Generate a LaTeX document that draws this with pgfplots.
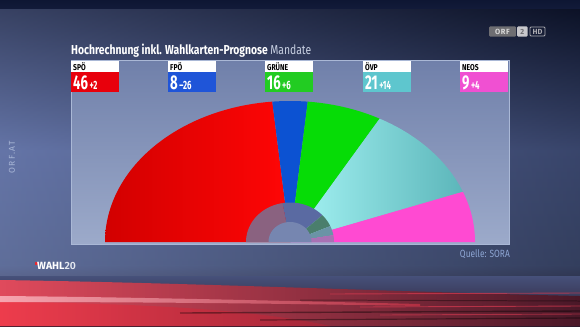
\documentclass[border=0pt]{standalone}
\usepackage{pgfplots}
\pgfplotsset{compat=1.18}
\usepackage{pgfplotstable}
\usepackage{fontspec}
\setmainfont{Fira Sans}
\newfontfamily\cond{Fira Sans}[FakeStretch=0.80]
\newfontfamily\numf{Fira Sans}[FakeStretch=0.66]
\newfontfamily\light{Fira Sans Light}

\definecolor{bgA}{HTML}{0E1633}
\definecolor{bgB}{HTML}{54669E}
\definecolor{bgC}{HTML}{4C5C8A}
\definecolor{bgD}{HTML}{2A1A2C}
\definecolor{pnlT}{HTML}{7080AA}
\definecolor{pnlM}{HTML}{8A9AC0}
\definecolor{pnlBot}{HTML}{9CAACA}
\definecolor{pnlB}{HTML}{AAB8D6}
\definecolor{spoL}{HTML}{D20000}
\definecolor{spoR}{HTML}{FF0606}
\definecolor{fpo}{HTML}{0C52D2}
\definecolor{gru}{HTML}{06DC06}
\definecolor{ovpL}{HTML}{A6F4F4}
\definecolor{ovpR}{HTML}{5CB6BA}
\definecolor{neos}{HTML}{FF4AD2}
\definecolor{boxspo}{HTML}{E8000C}
\definecolor{boxfpo}{HTML}{1F55D8}
\definecolor{boxgru}{HTML}{22CC22}
\definecolor{boxovp}{HTML}{5EC6CE}
\definecolor{boxneos}{HTML}{F050D2}
\definecolor{pspo}{HTML}{8A6280}
\definecolor{pfpo}{HTML}{5A6AA2}
\definecolor{pgru}{HTML}{4A7E6C}
\definecolor{povp}{HTML}{6A94A6}
\definecolor{pneos}{HTML}{A872B4}
\definecolor{core}{HTML}{7686B0}
\definecolor{titgrey}{HTML}{C8D0E2}
\definecolor{quelle}{HTML}{8EA6D4}
\definecolor{orfat}{HTML}{A8B6D6}
\definecolor{redA}{HTML}{E04A5C}
\definecolor{redB}{HTML}{4A1828}
\definecolor{redC}{HTML}{F03A4A}
\definecolor{redD}{HTML}{A82638}
\definecolor{pinkA}{HTML}{FFC4CC}
\definecolor{pinkB}{HTML}{C83246}
\definecolor{redL}{HTML}{D83A50}
\definecolor{tick}{HTML}{E62832}
\definecolor{lgA}{HTML}{6E6E72}
\definecolor{lgB}{HTML}{D8D8D8}
\definecolor{lgC}{HTML}{C8C8CC}
\definecolor{lgD}{HTML}{6E6E72}
\definecolor{lgE}{HTML}{AAAAB0}
\definecolor{w20}{HTML}{E4E8F0}

\pgfplotstableread{
party seats change prev
SPO 46 +2 44
FPO 8 -26 34
GRUENE 16 +6 10
OVP 21 +14 7
NEOS 9 +4 5
}\mandate

\newcommand\getv[3]{\pgfplotstablegetelem{#1}{#2}\of\mandate\edef#3{\pgfplotsretval}}

% wedge: options, from angle, to angle, rx, ry (ray at true angle, clipped by ellipse)
\newcommand\seat[5]{%
  \addplot[#1, draw=none, domain=#2:#3, samples=90, variable=\t]
  ({290+cos(\t)*#4/sqrt((cos(\t))^2+(#4/#5)^2*(sin(\t))^2)},
   {242-sin(\t)*#4/sqrt((cos(\t))^2+(#4/#5)^2*(sin(\t))^2)})
   -- (axis cs:290,242) -- cycle;}

% party box: x, colour, name, seats, change
\newcommand\pbox[5]{%
  \fill[white] (#1,61) rectangle (#1+48,72);
  \fill[#2] (#1,72) rectangle (#1+48,92);
  \node[anchor=base west, inner sep=0, text=black, font=\cond\bfseries\fontsize{8.5}{8.5}\selectfont] at (#1+2,70.2) {#3};
  \node[anchor=base west, inner sep=0, text=white, font=\numf\bfseries\fontsize{20}{20}\selectfont] at (#1+2,89.3) {#4\kern1.5bp{\fontsize{12}{12}\selectfont #5}};}

\begin{document}
\begin{tikzpicture}[x=1bp,y=1bp]
\getv{0}{seats}\sA\getv{1}{seats}\sB\getv{2}{seats}\sC\getv{3}{seats}\sD\getv{4}{seats}\sE
\getv{0}{prev}\pA\getv{1}{prev}\pB\getv{2}{prev}\pC\getv{3}{prev}\pD\getv{4}{prev}\pE
\pgfmathsetmacro\unit{180/(\sA+\sB+\sC+\sD+\sE)}
\pgfmathsetmacro\eA{180-\unit*\sA}
\pgfmathsetmacro\eB{\eA-\unit*\sB}
\pgfmathsetmacro\eC{\eB-\unit*\sC}
\pgfmathsetmacro\eD{\eC-\unit*\sD}
\pgfmathsetmacro\punit{180/(\pA+\pB+\pC+\pD+\pE)}
\pgfmathsetmacro\qA{180-\punit*\pA}
\pgfmathsetmacro\qB{\qA-\punit*\pB}
\pgfmathsetmacro\qC{\qB-\punit*\pC}
\pgfmathsetmacro\qD{\qC-\punit*\pD}
\useasboundingbox (0,0) rectangle (580,326);
\begin{axis}[at={(0,0)}, anchor=south west, scale only axis,
  width=580bp, height=326bp, xmin=0, xmax=580, ymin=0, ymax=326,
  y dir=reverse, hide axis, clip=false]
% ---- background
\shade[top color=bgA, bottom color=bgB] (0,0) rectangle (580,150.5);
\shade[top color=bgB, bottom color=bgC] (0,150) rectangle (580,266);
\shade[top color=bgC, bottom color=bgD] (0,265.5) rectangle (580,326);
\shade[left color=white!30!bgB, right color=black, opacity=0.32] (0,10) rectangle (580,275);
% red streaks
\shade[left color=redA, right color=redB]
  (0,280) .. controls (200,283) and (400,292) .. (580,296) -- (580,326) -- (0,326) -- cycle;
\shade[left color=redC, right color=redD, opacity=0.85]
  (0,302) .. controls (120,303) and (250,308) .. (330,326) -- (0,326) -- cycle;
\shade[left color=pinkA, right color=pinkB, opacity=0.75]
  (0,296) .. controls (120,297) and (250,300) .. (420,304) -- (420,306) .. controls (250,303) and (120,302) .. (0,302) -- cycle;
\draw[black, opacity=0.4, line width=1.4] (180,313) -- (580,311);
\draw[black, opacity=0.4, line width=1.2] (260,320) -- (580,318);
\draw[black, opacity=0.35, line width=1.0] (300,300) -- (580,301);
\draw[redL, opacity=0.7, line width=0.9] (330,294) -- (580,293);
\draw[redL, opacity=0.7, line width=0.9] (360,307) -- (580,306);
\draw[redL, opacity=0.6, line width=0.9] (380,315) -- (580,314);
% ---- panel
\shade[top color=pnlT, middle color=pnlM, bottom color=pnlBot] (71,60) rectangle (509,244);
\draw[pnlB, line width=0.7] (71,60) rectangle (509,244);
% ---- seat chart (current)
\seat{left color=spoL, right color=spoR}{\eA}{180}{185}{141}
\seat{fill=fpo}{\eB}{\eA}{185}{141}
\seat{fill=gru}{\eC}{\eB}{185}{141}
\seat{left color=ovpL, right color=ovpR}{\eD}{\eC}{185}{141}
\seat{fill=neos}{0}{\eD}{185}{141}
% ---- previous election (inner ring)
\seat{fill=pspo}{\qA}{180}{44}{39.5}
\seat{fill=pfpo}{\qB}{\qA}{44}{39.5}
\seat{fill=pgru}{\qC}{\qB}{44}{39.5}
\seat{fill=povp}{\qD}{\qC}{44}{39.5}
\seat{fill=pneos}{0}{\qD}{44}{39.5}
\seat{fill=core}{0}{180}{21.5}{20}
% ---- title
\node[anchor=base west, inner sep=0, text=white, font=\cond\bfseries\fontsize{13}{13}\selectfont]
  at (71,54) {Hochrechnung inkl. Wahlkarten-Prognose {\mdseries\color{titgrey}Mandate}};
% ---- party boxes
\pbox{71}{boxspo}{SPÖ}{\sA}{+2}
\pbox{168}{boxfpo}{FPÖ}{\sB}{–26}
\pbox{265}{boxgru}{GRÜNE}{\sC}{+6}
\pbox{363}{boxovp}{ÖVP}{\sD}{+14}
\pbox{460}{boxneos}{NEOS}{\sE}{+4}
% ---- other texts
\node[rotate=90, inner sep=0, text=orfat, font=\fontsize{8.5}{8.5}\selectfont] at (12,157) {O\kern1.2pt R\kern1.2pt F\kern1.2pt .\kern1.2pt A\kern1.2pt T};
\node[anchor=base east, inner sep=0, text=quelle, font=\cond\fontsize{10.5}{10.5}\selectfont] at (510,257) {Quelle: SORA};
\fill[tick] (35,262) rectangle (38,264.5);
\node[anchor=base west, inner sep=0, text=white, font=\bfseries\fontsize{10.5}{10.5}\selectfont] at (37,269.5) {WAHL{\light\color{w20}20}};
% ---- ORF2 HD logo
\fill[lgA, rounded corners=1bp] (489,26.5) rectangle (516,36.5);
\node[inner sep=0, text=lgB, font=\bfseries\fontsize{7.5}{7.5}\selectfont] at (502.5,31.5) {O\kern0.6pt R\kern0.6pt F};
\fill[lgC, rounded corners=1bp] (517,26.5) rectangle (527.5,36.5);
\node[inner sep=0, text=lgD, font=\bfseries\fontsize{7.5}{7.5}\selectfont] at (522.2,31.5) {2};
\draw[lgE, line width=0.8, rounded corners=1bp] (530,27) rectangle (545,36);
\node[inner sep=0, text=lgE, font=\bfseries\fontsize{7.5}{7.5}\selectfont] at (537.5,31.5) {HD};
\end{axis}
\end{tikzpicture}
\end{document}
